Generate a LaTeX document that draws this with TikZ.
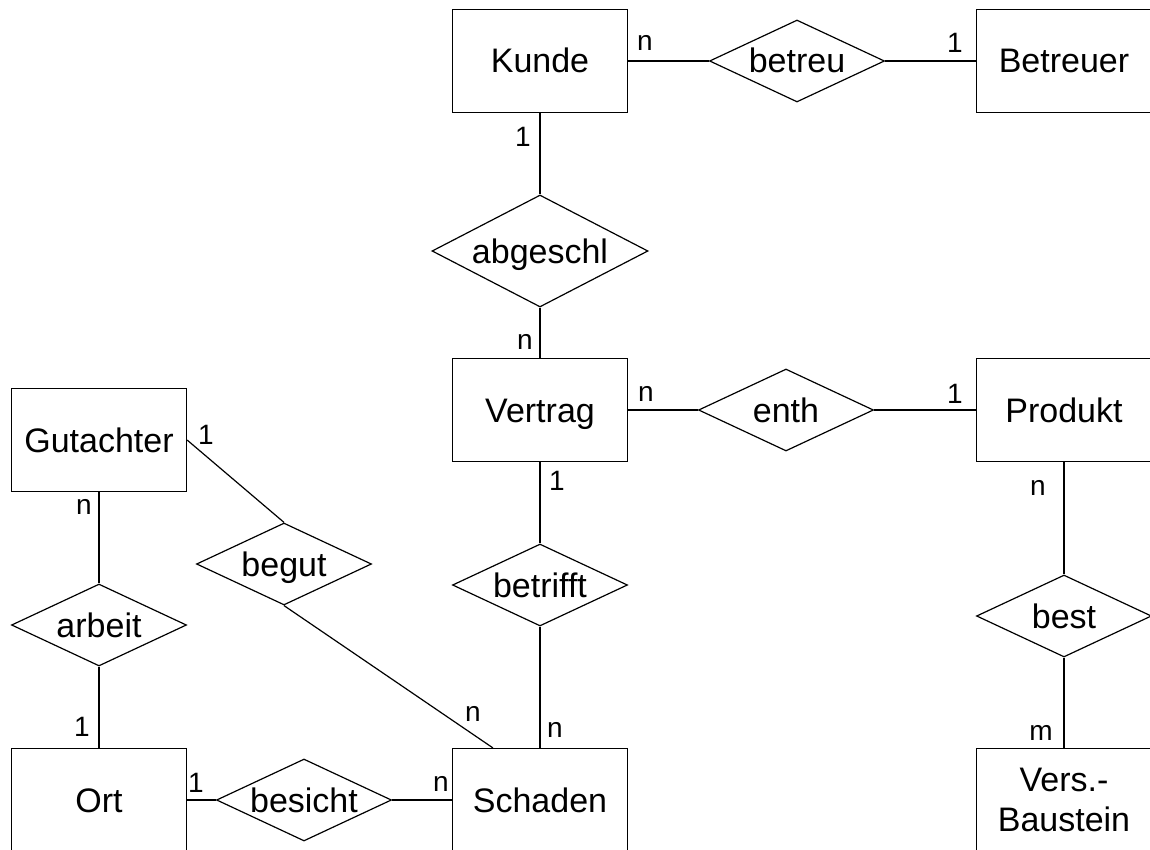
\documentclass[tikz,border=0pt]{standalone}
\usepackage{fontspec}
\setmainfont{Liberation Sans}
\usetikzlibrary{shapes.geometric}

\tikzset{
  entity/.style={draw, line width=1.2pt, minimum width=175pt, minimum height=103pt,
    inner sep=0pt, font=\fontsize{34}{40}\selectfont, text height=24pt, text depth=0pt},
  relation/.style={draw, diamond, aspect=2.1, line width=1.2pt, minimum width=175pt,
    minimum height=82pt, inner sep=0pt, font=\fontsize{34}{40}\selectfont,
    text height=24pt, text depth=0pt},
  card/.style={font=\fontsize{28}{32}\selectfont, inner sep=0pt},
  link/.style={line width=1.2pt}
}

\begin{document}
\begin{tikzpicture}[x=1pt, y=-1pt]
  \useasboundingbox (0,0) rectangle (1150,850);

  % Entities
  \node[entity] (kunde) at (540, 61) {Kunde};
  \node[entity] (betreuer) at (1064, 61) {Betreuer};
  \node[entity] (vertrag) at (540, 410) {Vertrag};
  \node[entity] (produkt) at (1064, 410) {Produkt};
  \node[entity] (gutachter) at (99, 440) {Gutachter};
  \node[entity] (ort) at (99, 800) {Ort};
  \node[entity] (schaden) at (540, 800) {Schaden};
  \node[entity, align=center, text height={}, text depth={}] (baustein) at (1064, 800) {Vers.-\\Baustein};

  % Relationships
  \node[relation] (betreu) at (797, 61) {betreu};
  \node[relation, minimum width=216pt, minimum height=112pt] (abgeschl) at (540, 251) {abgeschl};
  \node[relation] (enth) at (786, 410) {enth};
  \node[relation] (betrifft) at (540, 585) {betrifft};
  \node[relation] (begut) at (284, 564) {begut};
  \node[relation] (arbeit) at (99, 625) {arbeit};
  \node[relation] (besicht) at (304, 800) {besicht};
  \node[relation] (best) at (1064, 616) {best};

  % Connectors
  \draw[link] (kunde) -- (betreu);
  \draw[link] (betreu) -- (betreuer);
  \draw[link] (kunde) -- (abgeschl);
  \draw[link] (abgeschl) -- (vertrag);
  \draw[link] (vertrag) -- (enth);
  \draw[link] (enth) -- (produkt);
  \draw[link] (vertrag) -- (betrifft);
  \draw[link] (betrifft) -- (schaden);
  \draw[link] (gutachter.east) -- (begut.north);
  \draw[link] (begut.south) -- ([xshift=41pt]schaden.north west);
  \draw[link] (gutachter) -- (arbeit);
  \draw[link] (arbeit) -- (ort);
  \draw[link] (ort) -- (besicht);
  \draw[link] (besicht) -- (schaden);
  \draw[link] (produkt) -- (best);
  \draw[link] (best) -- (baustein);

  % Cardinalities
  \node[card] (c1) at (645, 43) {n};
  \node[card] (c2) at (955, 43) {1};
  \node[card] (c3) at (523, 137) {1};
  \node[card] (c4) at (525, 342) {n};
  \node[card] (c5) at (646, 394) {n};
  \node[card] (c6) at (955, 394) {1};
  \node[card] (c7) at (557, 481) {1};
  \node[card] (c8) at (555, 730) {n};
  \node[card] (c9) at (206, 435) {1};
  \node[card] (c10) at (473, 714) {n};
  \node[card] (c11) at (84, 507) {n};
  \node[card] (c12) at (82, 727) {1};
  \node[card] (c13) at (196, 783) {1};
  \node[card] (c14) at (441, 784) {n};
  \node[card] (c15) at (1038, 488) {n};
  \node[card] (c16) at (1041, 733) {m};
\end{tikzpicture}
\end{document}
